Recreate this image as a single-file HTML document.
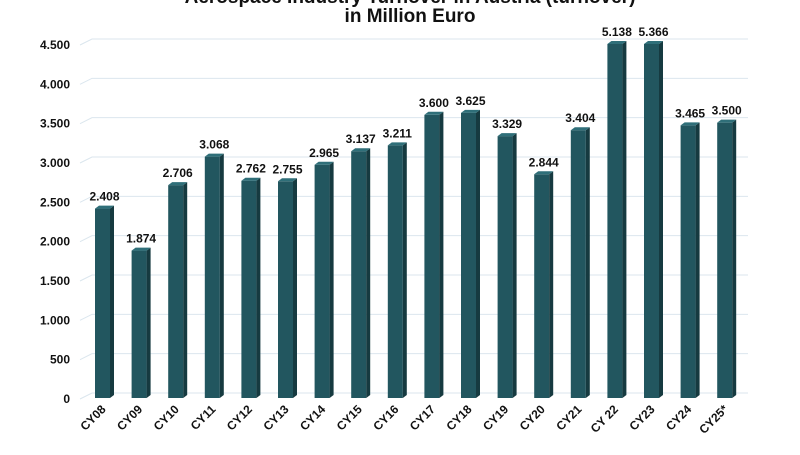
<!DOCTYPE html>
<html><head><meta charset="utf-8"><style>
body{margin:0;background:#fff;font-family:"Liberation Sans",Arial,sans-serif}
svg text{font-family:"Liberation Sans",Arial,sans-serif;font-weight:bold}
</style></head><body>
<svg id="chart" width="800" height="450" viewBox="0 0 800 450" xmlns="http://www.w3.org/2000/svg">
<text x="410" y="3" text-anchor="middle" font-size="19" fill="#111">Aerospace Industry Turnover in Austria (turnover)</text>
<text x="410" y="22" text-anchor="middle" font-size="19" fill="#111">in Million Euro</text>
<g id="grid"></g><g id="bars"></g><g id="labels"></g>
</svg>
<script>
const categories=["CY08","CY09","CY10","CY11","CY12","CY13","CY14","CY15","CY16","CY17","CY18","CY19","CY20","CY21","CY 22","CY23","CY24","CY25*"];
const values=[2408,1874,2706,3068,2762,2755,2965,3137,3211,3600,3625,3329,2844,3404,5138,5366,3465,3500];
const yTicks=[0,500,1000,1500,2000,2500,3000,3500,4000,4500];
const yMax=4500;
const NS="http://www.w3.org/2000/svg";
const y0=398,yTop=44,x0=95,step=36.6,bw=15,depth=4;
function yScale(v){return y0-(Math.min(v,yMax)/yMax)*(y0-yTop);}
function xScale(i){return x0+i*step;}
function fmt(v){return String(v).replace(/\B(?=(\d{3})+(?!\d))/g,".");}
function mk(tag,attrs,parent){const e=document.createElementNS(NS,tag);for(const k in attrs)e.setAttribute(k,attrs[k]);parent.appendChild(e);return e;}
const grid=document.getElementById('grid'),bars=document.getElementById('bars'),labels=document.getElementById('labels');
yTicks.forEach(t=>{const y=yScale(t);
 const p=mk('path',{d:`M80 ${y+1} L92 ${y-5} L748 ${y-5}`,stroke:'#dbe6ee','stroke-width':1,fill:'none'},grid);
 
 
 const tx=mk('text',{x:70,y:y+5,'text-anchor':'end','font-size':12,fill:'#111'},grid);
 tx.textContent=fmt(t);
 
 
});
values.forEach((v,i)=>{const x=xScale(i),y=yScale(v);
 const g=mk('g',{},bars);
 
 
 mk('rect',{x:x,y:y,width:bw,height:y0-y,fill:'#22565f'},g);
 mk('polygon',{points:`${x+bw},${y} ${x+bw+depth},${y-3} ${x+bw+depth},${y0-3} ${x+bw},${y0}`,fill:'#163a40'},g);
 mk('polygon',{points:`${x},${y} ${x+depth},${y-3} ${x+bw+depth},${y-3} ${x+bw},${y}`,fill:'#2f6f79'},g);
 const lt=mk('text',{x:x+bw/2+2,y:y-8,'text-anchor':'middle','font-size':12,fill:'#111'},labels);
 lt.textContent=fmt(v);
 
 
 const cx=x+bw/2+4,cy=410;
 const ct=mk('text',{x:cx,y:cy,'text-anchor':'end','font-size':12,fill:'#111',transform:`rotate(-45 ${cx} ${cy})`},labels);
 ct.textContent=categories[i];
 
 
});
</script>
</body></html>
